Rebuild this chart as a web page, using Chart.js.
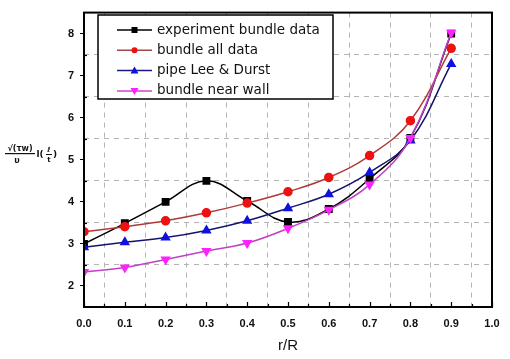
<!DOCTYPE html>
<html>
<head>
<meta charset="utf-8">
<script src="https://cdn.jsdelivr.net/npm/chart.js@4/dist/chart.umd.min.js"></script>
<style>
  html, body { margin: 0; padding: 0; background: #fff; }
  #wrap { width: 510px; height: 359px; }
</style>
</head>
<body>
<div id="wrap"><canvas id="chart" width="510" height="359"></canvas></div>
<script>
// r/R positions
const rR = [0.0, 0.1, 0.2, 0.3, 0.4, 0.5, 0.6, 0.7, 0.8, 0.9];

// series
const experimentBundle = [3.0, 3.49, 4.0, 4.5, 4.02, 3.52, 3.83, 4.55, 5.52, 8.0];
const bundleAll = [3.29, 3.41, 3.55, 3.74, 3.97, 4.24, 4.58, 5.1, 5.93, 7.65];
const pipeLeeDurst = [2.92, 3.04, 3.15, 3.32, 3.55, 3.85, 4.18, 4.7, 5.46, 7.28];
const bundleNearWall = [2.33, 2.44, 2.63, 2.83, 3.02, 3.37, 3.81, 4.41, 5.52, 8.02];

const seriesNames = ["experiment bundle data", "bundle all data", "pipe Lee & Durst", "bundle near wall"];
const xTickLabels = ["0.0", "0.1", "0.2", "0.3", "0.4", "0.5", "0.6", "0.7", "0.8", "0.9", "1.0"];
const yTickLabels = ["2", "3", "4", "5", "6", "7", "8"];

const toPts = (ys) => ys.map((y, i) => ({ x: rR[i], y }));

const styles = [
  { line: "#000000", fill: "#000000", shape: "rect", rot: 0, legendLine: "#000000" },
  { line: "#b03a3a", fill: "#ee1111", shape: "circle", rot: 0, legendLine: "#a04848" },
  { line: "#14146e", fill: "#1010e0", shape: "triangle", rot: 0, legendLine: "#1a1a80" },
  { line: "#c040c8", fill: "#ff22ff", shape: "triangle", rot: 180, legendLine: "#cc44cc" }
];
const allData = [experimentBundle, bundleAll, pipeLeeDurst, bundleNearWall];

const datasets = allData.map((d, i) => ({
  label: seriesNames[i],
  data: toPts(d),
  borderColor: styles[i].line,
  backgroundColor: styles[i].fill,
  pointBackgroundColor: styles[i].fill,
  pointBorderColor: styles[i].fill,
  pointStyle: styles[i].shape,
  pointRotation: styles[i].rot,
  pointRadius: i === 1 ? 4 : 4.5,
  borderWidth: 1.5,
  tension: 0.4,
  order: 4 - i
}));

const isMajor = (v, step) => Math.abs(v / step - Math.round(v / step)) < 1e-6;

// frame, inner ticks, legend and y title
const decor = {
  id: "decor",
  afterDraw(chart) {
    const { ctx, chartArea: a, scales } = chart;
    ctx.save();
    // inward ticks
    ctx.strokeStyle = "#000";
    ctx.lineWidth = 1.2;
    for (let v = 0; v <= 1.0001; v += 0.05) {
      const px = Math.round(scales.x.getPixelForValue(v)) + 0.5;
      const len = isMajor(v, 0.1) ? 5 : 3;
      ctx.beginPath(); ctx.moveTo(px, a.bottom); ctx.lineTo(px, a.bottom - len); ctx.stroke();
    }
    for (let v = 2; v <= 8.0001; v += 0.5) {
      if (isMajor(v, 1)) continue;
      const py = Math.round(scales.y.getPixelForValue(v)) + 0.5;
      ctx.beginPath(); ctx.moveTo(a.left, py); ctx.lineTo(a.left + 3, py); ctx.stroke();
    }
    // frame
    ctx.lineWidth = 2;
    ctx.strokeRect(a.left, a.top, a.right - a.left, a.bottom - a.top);

    // legend
    const lx = 98, ly = 15, lw = 235, lh = 84;
    ctx.fillStyle = "#fff";
    ctx.fillRect(lx, ly, lw, lh);
    ctx.lineWidth = 1.5;
    ctx.strokeStyle = "#000";
    ctx.strokeRect(lx, ly, lw, lh);
    ctx.font = "13.5px 'DejaVu Sans', sans-serif";
    ctx.textBaseline = "middle";
    seriesNames.forEach((name, i) => {
      const y = ly + 15 + i * 20.3;
      ctx.strokeStyle = styles[i].legendLine;
      ctx.lineWidth = 1.5;
      ctx.beginPath(); ctx.moveTo(117, y); ctx.lineTo(152, y); ctx.stroke();
      ctx.fillStyle = styles[i].fill;
      const c = 134.5;
      ctx.beginPath();
      if (i === 0) ctx.rect(c - 3, y - 3, 6, 6);
      else if (i === 1) ctx.arc(c, y, 3, 0, Math.PI * 2);
      else if (i === 2) { ctx.moveTo(c, y - 4); ctx.lineTo(c + 4, y + 3); ctx.lineTo(c - 4, y + 3); ctx.closePath(); }
      else { ctx.moveTo(c, y + 4); ctx.lineTo(c + 4, y - 3); ctx.lineTo(c - 4, y - 3); ctx.closePath(); }
      ctx.fill();
      ctx.fillStyle = "#111";
      ctx.textAlign = "left";
      ctx.fillText(name, 157, y);
    });

    // y axis title (formula)
    ctx.fillStyle = "#111";
    ctx.textAlign = "center";
    ctx.textBaseline = "alphabetic";
    ctx.font = "bold 8px 'DejaVu Sans', sans-serif";
    ctx.fillText("√(τw)", 20, 151);
    ctx.fillRect(5, 153, 30, 1.2);
    ctx.fillText("υ", 17, 163);
    ctx.font = "bold 9px 'DejaVu Sans', sans-serif";
    ctx.fillText("l(", 40, 157);
    ctx.font = "bold 7px 'DejaVu Sans', sans-serif";
    ctx.fillText("ℓ", 49, 152);
    ctx.fillRect(46, 154, 6, 1);
    ctx.fillText("t", 49, 162);
    ctx.font = "bold 9px 'DejaVu Sans', sans-serif";
    ctx.fillText(")", 55, 157);
    ctx.restore();
  }
};

new Chart(document.getElementById("chart"), {
  type: "line",
  data: { datasets },
  options: {
    responsive: false,
    animation: false,
    layout: { padding: { left: 0, right: 18, top: 7, bottom: 0 } },
    plugins: { legend: { display: false }, tooltip: { enabled: false } },
    scales: {
      x: {
        type: "linear",
        min: 0,
        max: 1,
        afterFit: (s) => { s.height = 52; },
        ticks: {
          stepSize: 0.05,
          autoSkip: false,
          maxRotation: 0,
          padding: 10,
          color: "#111",
          font: { family: "'Liberation Sans', Arial, sans-serif", size: 11, weight: "bold" },
          callback: (v) => isMajor(v, 0.1) ? xTickLabels[Math.round(v * 10)] : ""
        },
        grid: {
          drawTicks: false,
          color: (c) => (c.tick && !isMajor(c.tick.value, 0.1)) ? "#b4b4b4" : "rgba(0,0,0,0)",
          lineWidth: 1
        },
        border: { display: false, dash: [5, 5] },
        title: {
          display: true,
          text: "r/R",
          color: "#111",
          font: { family: "'Liberation Sans', Arial, sans-serif", size: 15 },
          padding: { top: 8 }
        }
      },
      y: {
        min: 1.5,
        max: 8.5,
        afterFit: (s) => { s.width = 84; },
        ticks: {
          stepSize: 0.5,
          autoSkip: false,
          padding: 6,
          color: "#111",
          font: { family: "'Liberation Sans', Arial, sans-serif", size: 11, weight: "bold" },
          callback: (v) => isMajor(v, 1) ? yTickLabels[Math.round(v) - 2] : ""
        },
        grid: {
          drawTicks: true,
          tickLength: 4,
          tickColor: (c) => (c.tick && isMajor(c.tick.value, 1)) ? "#000" : "rgba(0,0,0,0)",
          tickBorderDash: [],
          color: (c) => (c.tick && !isMajor(c.tick.value, 1) && c.tick.value > 1.6 && c.tick.value < 8.4) ? "#b4b4b4" : "rgba(0,0,0,0)",
          lineWidth: 1
        },
        border: { display: false, dash: [5, 5] }
      }
    }
  },
  plugins: [decor]
});
</script>
</body>
</html>
